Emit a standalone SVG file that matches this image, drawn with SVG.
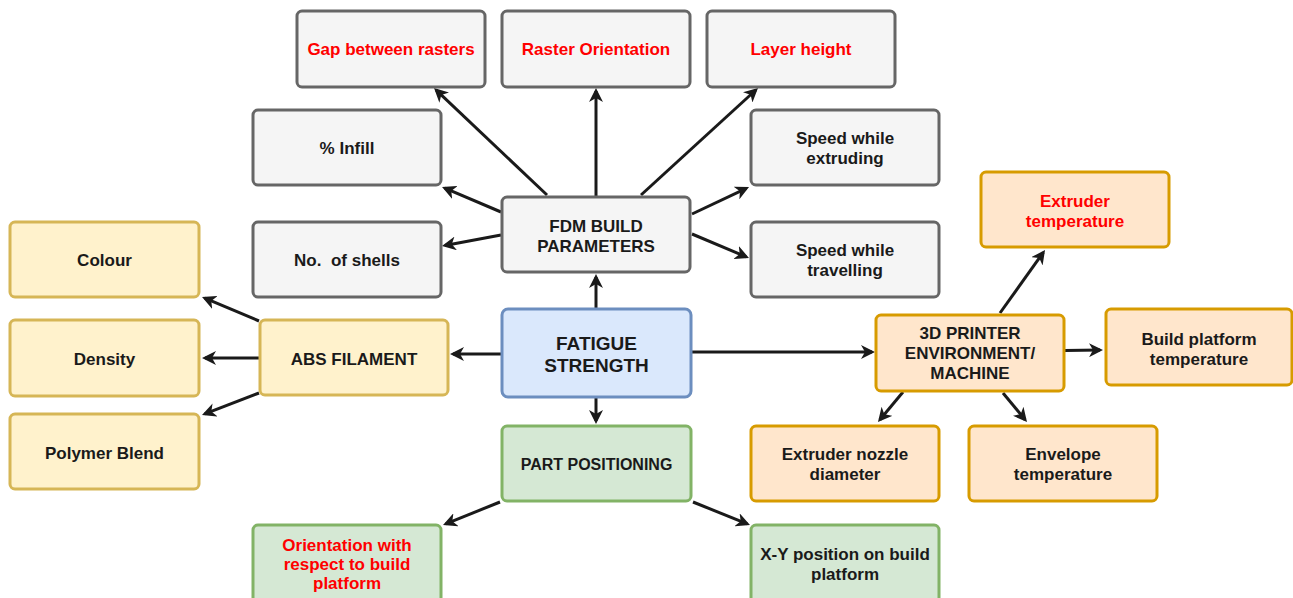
<svg xmlns="http://www.w3.org/2000/svg" width="1293" height="598" viewBox="0 0 1293 598">
<style>
text{font-family:"Liberation Sans",Arial,sans-serif;font-weight:bold;font-size:17px;fill:#1a1a1a;text-anchor:middle}
text.red{fill:#ff0000}
rect{stroke-width:3}
.gray{fill:#f5f5f5;stroke:#666666}
.yel{fill:#fff2cc;stroke:#d6b656}
.blue{fill:#dae8fc;stroke:#6c8ebf}
.green{fill:#d5e8d4;stroke:#82b366}
.orange{fill:#ffe6cc;stroke:#d79b00}
#connectors line{stroke:#1a1a1a;stroke-width:3;fill:none;marker-end:url(#arr)}
</style>
<defs>
<marker id="arr" markerUnits="userSpaceOnUse" viewBox="0 0 14 14" refX="11" refY="7" markerWidth="14" markerHeight="14" orient="auto">
<path d="M0,0 L14,7 L0,14 L4,7 z" fill="#1a1a1a"/>
</marker>
</defs>
<rect width="1293" height="598" fill="#ffffff" stroke="none"/>
<g id="connectors">
<line x1="547" y1="195" x2="436.2" y2="90.1"/>
<line x1="596" y1="196" x2="596" y2="91"/>
<line x1="641" y1="195" x2="755.8" y2="90"/>
<line x1="501" y1="212" x2="444.8" y2="188.2"/>
<line x1="692" y1="214" x2="746.3" y2="188.3"/>
<line x1="501" y1="235" x2="444.9" y2="245.5"/>
<line x1="692" y1="234" x2="746.2" y2="256.8"/>
<line x1="596" y1="308" x2="596" y2="277"/>
<line x1="501" y1="354" x2="453" y2="354"/>
<line x1="692" y1="352" x2="872" y2="352"/>
<line x1="596" y1="398" x2="596" y2="421"/>
<line x1="259" y1="321" x2="204.8" y2="298.2"/>
<line x1="259" y1="358" x2="205" y2="358"/>
<line x1="259" y1="393" x2="204.8" y2="413.9"/>
<line x1="1000" y1="313" x2="1043.3" y2="252.4"/>
<line x1="1065" y1="350.5" x2="1100" y2="350"/>
<line x1="903" y1="392" x2="879.9" y2="419.7"/>
<line x1="1003" y1="393" x2="1025.1" y2="419.7"/>
<line x1="500" y1="502" x2="445.8" y2="523.9"/>
<line x1="693" y1="502" x2="747.2" y2="523.9"/>
</g>
<g id="gap"><rect class="gray" x="297" y="11" width="188" height="76" rx="5"/><text class="red" x="391" y="55">Gap between rasters</text></g>
<g id="raster"><rect class="gray" x="502" y="11" width="188" height="76" rx="5"/><text class="red" x="596" y="55">Raster Orientation</text></g>
<g id="layer"><rect class="gray" x="707" y="11" width="188" height="76" rx="5"/><text class="red" x="801" y="55">Layer height</text></g>
<g id="infill"><rect class="gray" x="253" y="110" width="188" height="75" rx="5"/><text x="347" y="154">% Infill</text></g>
<g id="speedExt"><rect class="gray" x="751" y="110" width="188" height="75" rx="5"/><text x="845" y="144">Speed while</text><text x="845" y="164">extruding</text></g>
<g id="shells"><rect class="gray" x="253" y="222" width="188" height="75" rx="5"/><text x="347" y="266" style="white-space:pre">No.  of shells</text></g>
<g id="speedTrav"><rect class="gray" x="751" y="222" width="188" height="75" rx="5"/><text x="845" y="256">Speed while</text><text x="845" y="276">travelling</text></g>
<g id="fdm"><rect class="gray" x="502" y="197" width="188" height="75" rx="5"/><text x="596" y="232">FDM BUILD</text><text x="596" y="252">PARAMETERS</text></g>
<g id="colour"><rect class="yel" x="10" y="222" width="189" height="75" rx="5"/><text x="104.5" y="266">Colour</text></g>
<g id="density"><rect class="yel" x="10" y="320" width="189" height="76" rx="5"/><text x="104.5" y="365">Density</text></g>
<g id="polymer"><rect class="yel" x="10" y="414" width="189" height="75" rx="5"/><text x="104.5" y="459">Polymer Blend</text></g>
<g id="abs"><rect class="yel" x="260" y="320" width="188" height="75" rx="5"/><text x="354" y="365">ABS FILAMENT</text></g>
<g id="fatigue"><rect class="blue" x="502" y="309" width="189" height="88" rx="6"/><text x="596.5" y="349.5" style="font-size:19px">FATIGUE</text><text x="596.5" y="372" style="font-size:19px">STRENGTH</text></g>
<g id="part"><rect class="green" x="502" y="426" width="189" height="75" rx="5"/><text x="596.5" y="470" style="font-size:16px">PART POSITIONING</text></g>
<g id="printer"><rect class="orange" x="876" y="315" width="188" height="76" rx="5"/><text x="970" y="339">3D PRINTER</text><text x="970" y="359">ENVIRONMENT/</text><text x="970" y="379">MACHINE</text></g>
<g id="extTemp"><rect class="orange" x="981" y="172" width="188" height="75" rx="5"/><text class="red" x="1075" y="207">Extruder</text><text class="red" x="1075" y="227">temperature</text></g>
<g id="buildPlat"><rect class="orange" x="1106" y="309" width="186" height="76" rx="5"/><text x="1199" y="345">Build platform</text><text x="1199" y="365">temperature</text></g>
<g id="nozzle"><rect class="orange" x="751" y="426" width="188" height="75" rx="5"/><text x="845" y="460">Extruder nozzle</text><text x="845" y="480">diameter</text></g>
<g id="envelope"><rect class="orange" x="969" y="426" width="188" height="75" rx="5"/><text x="1063" y="460">Envelope</text><text x="1063" y="480">temperature</text></g>
<g id="orient"><rect class="green" x="253" y="525" width="188" height="78" rx="5"/><text class="red" x="347" y="551">Orientation with</text><text class="red" x="347" y="570">respect to build</text><text class="red" x="347" y="589">platform</text></g>
<g id="xy"><rect class="green" x="751" y="525" width="188" height="78" rx="5"/><text x="845" y="560">X-Y position on build</text><text x="845" y="580">platform</text></g>
</svg>
